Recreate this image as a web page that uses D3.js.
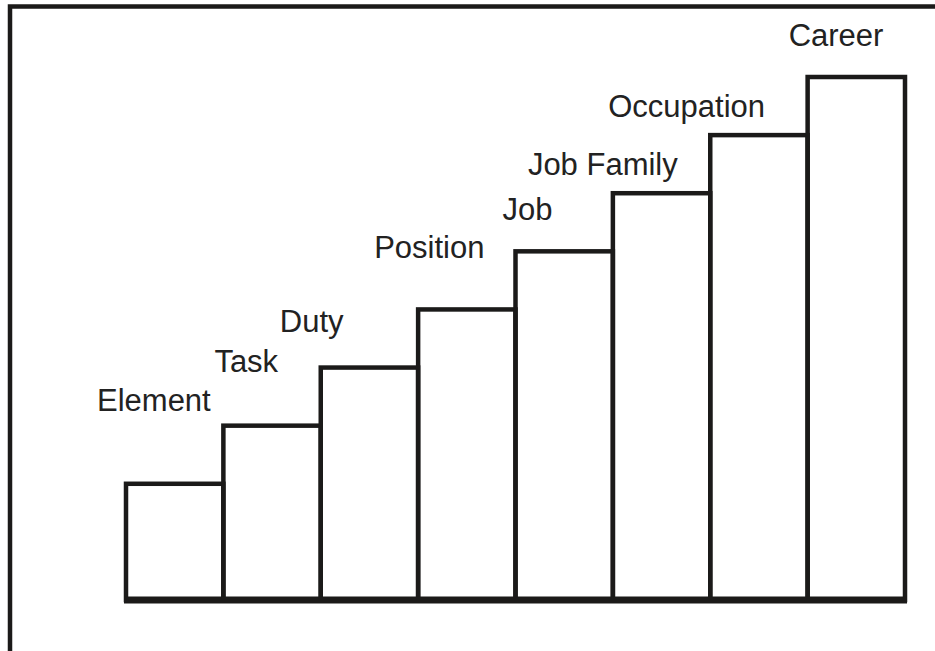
<!DOCTYPE html>
<html>
<head>
<meta charset="utf-8">
<script src="https://cdn.jsdelivr.net/npm/d3@7"></script>
<style>
  body { margin: 0; background: #fff; }
  svg { display: block; }
  .label { font-family: 'Liberation Sans', Arial, sans-serif; font-size: 31px; fill: #222; }
</style>
</head>
<body>
<svg class="chart"></svg>
<script>
// steps of the ladder, lowest to highest
const categories = ['Element', 'Task', 'Duty', 'Position', 'Job', 'Job Family', 'Occupation', 'Career'];
const levels = [2, 3, 4, 5, 6, 7, 8, 9];

// label nudges (px) relative to the left/top corner of each step
const labelDx = [-29, -9, -41, -44, -13, -85, -102, -19];
const labelDy = [-73, -54, -36, -51, -31, -18, -18, -31];

const width = 935;
const height = 651;
const ink = '#1b1a19';

const svg = d3.select('.chart')
  .attr('width', width)
  .attr('height', height);

const x = d3.scaleBand()
  .domain(categories)
  .range([126, 905])
  .paddingInner(0)
  .paddingOuter(0);

const y = d3.scaleLinear()
  .domain([0, 9])
  .range([600, 77]);

// frame: only the top and left edges are drawn
svg.append('path')
  .attr('d', 'M10,' + height + ' V6.5 H' + width)
  .attr('fill', 'none')
  .attr('stroke', ink)
  .attr('stroke-width', 4.5);

const data = categories.map((c, i) => ({name: c, level: levels[i], dx: labelDx[i], dy: labelDy[i]}));

svg.append('g')
  .selectAll('rect')
  .data(data)
  .join('rect')
  .attr('x', d => x(d.name))
  .attr('y', d => y(d.level))
  .attr('width', x.bandwidth())
  .attr('height', d => y(0) - y(d.level))
  .attr('fill', 'none')
  .attr('stroke', ink)
  .attr('stroke-width', 4.5);

// heavy ground line
svg.append('line')
  .attr('x1', x.range()[0] - 2)
  .attr('x2', x.range()[1] + 2)
  .attr('y1', y(0))
  .attr('y2', y(0))
  .attr('stroke', ink)
  .attr('stroke-width', 7);

svg.append('g')
  .selectAll('text')
  .data(data)
  .join('text')
  .attr('class', 'label')
  .attr('x', d => x(d.name) + d.dx)
  .attr('y', d => y(d.level) + d.dy)
  .text(d => d.name);
</script>
</body>
</html>
